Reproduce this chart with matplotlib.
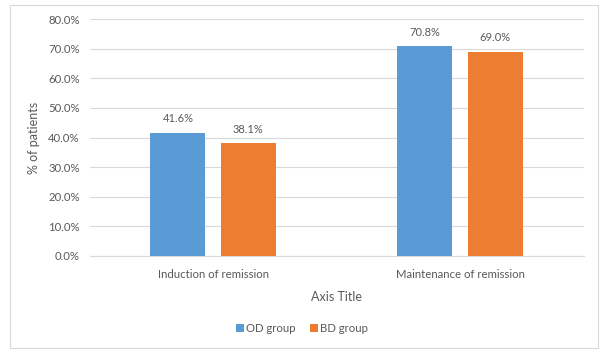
import matplotlib

matplotlib.use("Agg")
import matplotlib.pyplot as plt
import numpy as np
from matplotlib.patches import Rectangle
from matplotlib.ticker import FuncFormatter

# ── data ──────────────────────────────────────────────────────────────────────
categories = ["Induction of remission", "Maintenance of remission"]
series_names = ["OD group", "BD group"]
od_values = [41.6, 70.8]
bd_values = [38.1, 69.0]

# ── style ─────────────────────────────────────────────────────────────────────
_BLUE = "#5B9BD5"
_ORANGE = "#ED7D31"
_TEXT = "#595959"
_GRID = "#D9D9D9"
plt.rcParams["font.family"] = ["Lato", "DejaVu Sans"]

fig = plt.figure(figsize=(6.04, 3.51), dpi=100)
fig.patch.set_facecolor("white")
W, H = 604, 351
ax = fig.add_axes([89.5 / W, 1 - 256 / H, 494 / W, (256 - 19) / H])

x = np.arange(len(categories))
bw = 0.223
off = 0.142
bars_od = ax.bar(x - off, od_values, bw, color=_BLUE, label=series_names[0], zorder=3)
bars_bd = ax.bar(x + off, bd_values, bw, color=_ORANGE, label=series_names[1], zorder=3)

for bars in (bars_od, bars_bd):
    for b in bars:
        ax.annotate(
            f"{b.get_height():.1f}%",
            (b.get_x() + b.get_width() / 2, b.get_height()),
            xytext=(0, 6),
            textcoords="offset points",
            ha="center",
            va="bottom",
            fontsize=8,
            color=_TEXT,
        )

ax.set_xlim(-0.5, 1.5)
ax.set_ylim(0, 80)
ax.set_yticks(np.arange(0, 81, 10))
ax.yaxis.set_major_formatter(FuncFormatter(lambda v, _: f"{v:.1f}%"))
ax.set_xticks(x)
ax.set_xticklabels(categories)
ax.grid(axis="y", color=_GRID, linewidth=0.8, zorder=0)
for s in ("top", "right", "left"):
    ax.spines[s].set_visible(False)
ax.spines["bottom"].set_color(_GRID)
ax.tick_params(axis="both", length=0, labelsize=8.2, labelcolor=_TEXT)
ax.tick_params(axis="x", pad=9)
ax.tick_params(axis="y", pad=7)

ax.set_ylabel("% of patients", fontsize=9, color=_TEXT, labelpad=6)
ax.set_xlabel("Axis Title", fontsize=9, color=_TEXT, labelpad=8)

fig.legend(
    handles=[bars_od, bars_bd],
    labels=series_names,
    loc="center",
    bbox_to_anchor=(0.5, 1 - 328 / H),
    ncol=2,
    frameon=False,
    fontsize=8.2,
    labelcolor=_TEXT,
    handlelength=0.7,
    handleheight=0.7,
    handletextpad=0.2,
    columnspacing=1.2,
)

# outer chart border
fig.add_artist(
    Rectangle(
        (10 / W, 1 - 348 / H),
        588 / W,
        343 / H,
        transform=fig.transFigure,
        fill=False,
        edgecolor=_GRID,
        linewidth=0.8,
    )
)

fig.savefig("out.png", dpi=100)
